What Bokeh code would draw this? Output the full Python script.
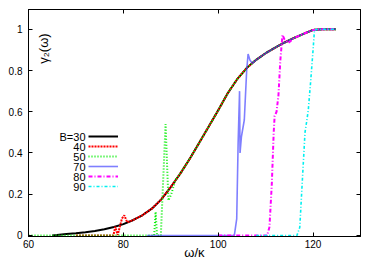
import math
from bokeh.plotting import figure
from bokeh.models import Range1d, LinearAxis, FixedTicker, Label, Legend, LegendItem
from bokeh.core.properties import value
from bokeh.embed import file_html
from bokeh.resources import INLINE

# ---------------- data ----------------
series_labels = ["B=30", "40", "50", "70", "80", "90"]

w30 = [65, 66, 68, 70, 72, 74, 76, 78, 80, 82, 84, 86, 88, 90, 92, 94, 96, 98, 100,
       102, 104, 106, 108, 110, 112, 114, 116, 118, 120, 122, 124.8]
g30 = [0.0, 0.002, 0.007, 0.011, 0.016, 0.022, 0.030, 0.041, 0.055, 0.074, 0.098, 0.130,
       0.175, 0.235, 0.300, 0.372, 0.450, 0.528, 0.607, 0.690, 0.758, 0.812, 0.852, 0.884,
       0.911, 0.936, 0.958, 0.978, 0.997, 1.0, 1.0]

w40 = [70, 77.9, 78.3, 78.8, 79.7, 80.2, 80.8, 82, 84, 86, 88, 90, 92, 94, 96, 98, 100,
       102, 104, 106, 108, 110, 112, 114, 116, 118, 120, 122, 124.8]
g40 = [0.0, 0.0, 0.042, 0.002, 0.082, 0.098, 0.064, 0.074, 0.098, 0.130, 0.175, 0.235,
       0.300, 0.372, 0.450, 0.528, 0.607, 0.690, 0.758, 0.812, 0.852, 0.884, 0.911, 0.936,
       0.958, 0.978, 0.997, 1.0, 1.0]

w50 = [60, 86.5, 86.8, 87.1, 87.9, 88.9, 89.5, 90.1, 91.0, 92, 94, 96, 98, 100, 102, 104,
       106, 108, 110, 112, 114, 116, 118, 120, 122, 124.8]
g50 = [0.0, 0.0, 0.115, 0.0, 0.0, 0.54, 0.17, 0.20, 0.27, 0.300, 0.372, 0.450, 0.528,
       0.607, 0.690, 0.758, 0.812, 0.852, 0.884, 0.911, 0.936, 0.958, 0.978, 0.997, 1.0, 1.0]

w70 = [85, 103.4, 103.9, 104.2, 104.5, 104.6, 104.9, 105.5, 106.0, 106.3, 106.7, 107.2,
       108, 110, 112, 114, 116, 118, 120, 122, 124.8]
g70 = [0.0, 0.0, 0.08, 0.45, 0.70, 0.40, 0.48, 0.56, 0.80, 0.88, 0.85, 0.835, 0.852,
       0.884, 0.911, 0.936, 0.958, 0.978, 0.997, 1.0, 1.0]

w80 = [100, 110.3, 110.8, 111.3, 111.7, 111.9, 112.3, 112.7, 113.1, 113.55, 114.0, 114.8,
       116, 118, 120, 122, 124.8]
g80 = [0.0, 0.0, 0.04, 0.25, 0.50, 0.58, 0.60, 0.68, 0.85, 0.973, 0.95, 0.934, 0.958,
       0.978, 0.997, 1.0, 1.0]

w90 = [108, 116.6, 117.2, 117.7, 118.3, 118.7, 119.0, 119.5, 120.0, 120.3, 122, 124.8]
g90 = [0.0, 0.0, 0.04, 0.25, 0.50, 0.56, 0.61, 0.75, 0.90, 0.998, 1.0, 1.0]

x_ticks = [60, 80, 100, 120]
x_tick_labels = ["60", "80", "100", "120"]
y_ticks = [0, 0.2, 0.4, 0.6, 0.8, 1.0]
y_tick_labels = ["0", "0.2", "0.4", "0.6", "0.8", "1"]

x_title = "ω/κ"
y_title = "γ₂(ω)"

# ---------------- figure ----------------
FONT = "Liberation Sans"
p = figure(width=374, height=262, output_backend="svg", toolbar_location=None,
           x_range=Range1d(60, 130), y_range=Range1d(-0.005, 1.096),
           min_border_left=28, min_border_right=14, min_border_top=9, min_border_bottom=24)
p.xgrid.visible = False
p.ygrid.visible = False
p.outline_line_color = "black"
p.outline_line_width = 1
p.background_fill_color = "white"
p.border_fill_color = "white"

for ax, ticks, labels in ((p.xaxis[0], x_ticks, x_tick_labels), (p.yaxis[0], y_ticks, y_tick_labels)):
    ax.ticker = FixedTicker(ticks=ticks)
    ax.major_label_overrides = {t: l for t, l in zip(ticks, labels)}
    ax.axis_line_color = "black"
    ax.major_tick_in = 4
    ax.major_tick_out = 0
    ax.major_tick_line_color = "black"
    ax.minor_tick_line_color = None
    ax.major_label_text_font = FONT
    ax.major_label_text_font_size = "10px"
    ax.major_label_text_color = "black"
p.xaxis[0].major_label_standoff = 3
p.yaxis[0].major_label_standoff = 6

p.xaxis[0].axis_label = x_title
p.xaxis[0].axis_label_text_font = FONT
p.xaxis[0].axis_label_text_font_size = "13px"
p.xaxis[0].axis_label_text_font_style = "normal"
p.xaxis[0].axis_label_text_color = "black"
p.xaxis[0].axis_label_standoff = -6

for side, ticks in (("above", x_ticks), ("right", y_ticks)):
    ax = LinearAxis(ticker=FixedTicker(ticks=ticks),
                    major_label_overrides={t: "" for t in ticks},
                    major_label_text_font_size="0px", major_label_standoff=0,
                    major_tick_in=4, major_tick_out=0, minor_tick_line_color=None,
                    axis_line_color="black", major_tick_line_color="black")
    p.add_layout(ax, side)

styles = [
    dict(color="#000000", width=2.0, dash="solid", alpha=1.0),
    dict(color="#ff0000", width=2.0, dash="2 1", alpha=1.0),
    dict(color="#00ee00", width=2.0, dash="1 2", alpha=1.0),
    dict(color="#3a3aff", width=1.6, dash="solid", alpha=0.65),
    dict(color="#ff00ff", width=2.0, dash="4 2 1 2", alpha=1.0),
    dict(color="#00f0f0", width=1.6, dash="3 2 1 2", alpha=1.0),
]
xs = [w30, w40, w50, w70, w80, w90]
ys = [g30, g40, g50, g70, g80, g90]

renderers = []
for x, y, s in zip(xs, ys, styles):
    r = p.line(x, y, line_color=s["color"], line_width=s["width"],
               line_dash=s["dash"], line_alpha=s["alpha"])
    renderers.append(r)

# legend: samples via Legend, texts right-aligned to their left
legend = Legend(items=[LegendItem(label=value(" "), renderers=[r]) for r in renderers],
                location=(60, 45), glyph_width=30, glyph_height=10, label_height=10,
                label_width=0, label_standoff=0, spacing=0, padding=0, margin=0,
                border_line_color=None, background_fill_alpha=0,
                label_text_font_size="1px")
p.add_layout(legend)

for i, lab in enumerate(series_labels):
    p.add_layout(Label(x=57, y=100 - 10 * i, x_units="screen", y_units="screen",
                       text=lab, text_align="right", text_baseline="middle",
                       text_font=FONT, text_font_size="11px", text_color="black"))

p.add_layout(Label(x=15, y=188, x_units="screen", y_units="screen", text=y_title,
                   angle=math.pi / 2, text_align="center", text_baseline="middle",
                   text_font=FONT, text_font_size="13px", text_color="black"))

open("out.html", "w").write(file_html(p, INLINE))
